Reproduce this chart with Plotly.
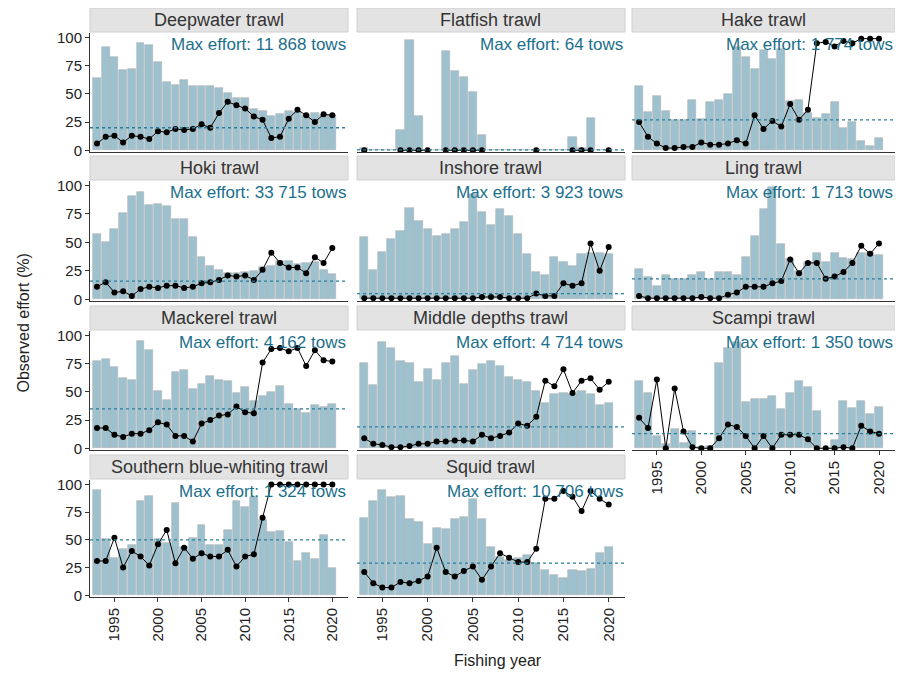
import plotly.graph_objects as go

years = list(range(1993, 2021))
fisheries = ["Deepwater trawl", "Flatfish trawl", "Hake trawl",
             "Hoki trawl", "Inshore trawl", "Ling trawl",
             "Mackerel trawl", "Middle depths trawl", "Scampi trawl",
             "Southern blue-whiting trawl", "Squid trawl"]
max_effort = ["11 868", "64", "1 774", "33 715", "3 923", "1 713",
              "4 162", "4 714", "1 350", "1 324", "10 706"]

N = None
effort = {
 "Deepwater trawl": [64,92,83,71,72,95,93,78,61,58,62,57,57,57,55,51,46,46,37,35,30,32,35,34,31,33,31,31],
 "Flatfish trawl": [2,0,0,0,18,98,30,0,0,88,70,65,52,14,0,0,0,0,0,0,0,0,0,12,2,29,0,0],
 "Hake trawl": [57,34,48,35,27,27,45,28,43,45,50,92,83,72,89,81,90,44,45,33,29,32,43,20,25,8,4,11],
 "Hoki trawl": [57,50,62,76,91,94,83,84,82,71,71,55,37,29,26,23,23,24,25,28,29,34,34,31,32,33,26,22],
 "Inshore trawl": [55,26,42,53,60,80,69,62,56,57,62,68,93,77,65,79,73,57,40,24,21,37,33,29,40,41,41,40],
 "Ling trawl": [27,20,12,21,18,18,21,24,18,24,24,21,37,56,79,99,49,35,25,33,41,33,41,36,35,41,41,39],
 "Mackerel trawl": [77,79,72,62,61,95,87,51,43,68,69,53,57,64,61,60,49,54,42,46,50,55,39,35,31,38,37,39],
 "Middle depths trawl": [76,56,94,89,77,76,59,70,61,76,82,57,69,75,77,73,63,61,59,51,40,48,49,48,51,48,38,40],
 "Scampi trawl": [60,49,11,4,17,5,15,1,2,76,89,94,41,44,44,46,35,49,60,54,33,0,7,42,36,42,30,37],
 "Southern blue-whiting trawl": [95,51,34,42,45,85,90,51,47,83,44,52,63,45,45,59,85,80,89,68,57,58,48,31,38,33,54,25],
 "Squid trawl": [70,85,95,89,90,69,66,46,61,60,69,71,87,69,44,35,32,34,36,29,23,18,16,23,22,24,38,44],
}
observed = {
 "Deepwater trawl": [6,12,13,7,13,12,10,17,16,19,18,19,23,20,33,43,40,37,30,27,11,12,28,36,31,25,32,31],
 "Flatfish trawl": [0,N,N,N,0,0,0,0,N,0,0,0,0,0,N,N,N,N,N,0,N,N,N,0,0,0,N,0],
 "Hake trawl": [25,12,6,2,2,3,3,7,5,5,6,9,6,31,19,26,21,41,27,36,95,96,92,97,95,99,99,99],
 "Hoki trawl": [11,15,6,7,3,9,11,10,12,12,10,11,14,15,17,21,20,21,17,26,41,32,28,28,23,37,32,45],
 "Inshore trawl": [1,1,1,1,1,1,1,1,1,1,1,1,1,2,2,2,1,1,1,5,3,3,14,12,14,49,25,46],
 "Ling trawl": [3,1,1,1,1,1,1,2,1,1,4,6,11,11,11,14,16,35,23,32,32,18,20,24,32,47,40,49],
 "Mackerel trawl": [18,18,12,10,13,13,16,23,21,11,11,6,22,25,29,30,37,32,31,76,88,89,86,89,73,87,78,77],
 "Middle depths trawl": [9,4,3,1,1,2,4,4,6,6,7,7,6,12,9,11,14,22,20,28,60,55,70,49,60,62,52,59],
 "Scampi trawl": [27,18,61,0,53,15,1,0,0,9,21,19,11,0,11,0,12,12,12,8,0,0,0,1,0,20,15,13],
 "Southern blue-whiting trawl": [31,31,52,25,40,35,27,46,59,29,43,33,38,35,35,41,26,35,37,70,100,100,100,100,100,100,100,100],
 "Squid trawl": [21,11,7,7,12,11,13,17,43,21,17,22,26,14,26,38,34,30,30,42,87,87,94,89,76,94,87,82],
}
mean_obs = {"Deepwater trawl": 20, "Flatfish trawl": 0.3, "Hake trawl": 27,
            "Hoki trawl": 16, "Inshore trawl": 5, "Ling trawl": 18,
            "Mackerel trawl": 35, "Middle depths trawl": 19, "Scampi trawl": 13,
            "Southern blue-whiting trawl": 50, "Squid trawl": 29}
y_ticks = [0, 25, 50, 75, 100]
x_ticks = [1995, 2000, 2005, 2010, 2015, 2020]

W, H = 903, 677
OFF = 8
cols_px = [(90, 348), (357, 625), (632, 895)]
rows_px = [(33, 152), (181, 301), (331, 450), (480, 597)]
strip_h = 24

def px(v):
    return (v - OFF) / W

def py(v):
    return 1 - (v - OFF) / H

fig = go.Figure()
layout = {}
for i, name in enumerate(fisheries):
    r, c = divmod(i, 3)
    k = i + 1
    xa = "x" if k == 1 else f"x{k}"
    ya = "y" if k == 1 else f"y{k}"
    x0, x1 = cols_px[c]
    y0, y1 = rows_px[r]
    bottom = (r == 3) or (r == 2 and c == 2)
    layout["xaxis" if k == 1 else f"xaxis{k}"] = dict(
        domain=[px(x0), px(x1)], anchor=ya, range=[1992.2, 2021.8], automargin=False,
        tickvals=x_ticks, showticklabels=bottom, tickangle=-90,
        ticks="outside" if bottom else "", ticklen=4, tickcolor="#333",
        showgrid=False, zeroline=False, showline=True, linecolor="#333", linewidth=1,
        tickfont=dict(size=15, color="#222"))
    layout["yaxis" if k == 1 else f"yaxis{k}"] = dict(
        domain=[py(y1), py(y0)], anchor=xa, range=[-1.5, 104], automargin=False,
        tickvals=y_ticks, showticklabels=(c == 0), ticks="outside" if c == 0 else "",
        ticklen=4, tickcolor="#333", showgrid=False, zeroline=False,
        showline=(c == 0), linecolor="#333", linewidth=1,
        tickfont=dict(size=15, color="#222"))
    fig.add_trace(go.Bar(x=years, y=effort[name], xaxis=xa, yaxis=ya, width=0.9,
                         marker=dict(color="#9dc1ce", line=dict(color="#b0b0b0", width=0.6)),
                         showlegend=False))
    fig.add_trace(go.Scatter(x=years, y=observed[name], xaxis=xa, yaxis=ya,
                             mode="lines+markers", line=dict(color="black", width=1),
                             marker=dict(color="black", size=6), connectgaps=False,
                             showlegend=False))
    fig.add_shape(type="line", xref=f"{xa} domain", yref=ya, x0=0, x1=1,
                  y0=mean_obs[name], y1=mean_obs[name],
                  line=dict(color="#2a7f96", width=1.3, dash="dot"))
    fig.add_shape(type="rect", xref="paper", yref="paper", x0=px(x0), x1=px(x1),
                  y0=py(y0 - 1), y1=py(y0 - 1 - strip_h),
                  fillcolor="#e3e3e3", line=dict(color="#d0d0d0", width=1), layer="below")
    fig.add_annotation(xref="paper", yref="paper", x=px((x0 + x1) / 2),
                       y=py(y0 - 1 - strip_h / 2), text=name, showarrow=False,
                       font=dict(size=18, color="#333"), xanchor="center", yanchor="middle")
    fig.add_annotation(xref=f"{xa} domain", yref=f"{ya} domain", x=1, y=1,
                       text=f"Max effort: {max_effort[i]} tows", showarrow=False,
                       xanchor="right", yanchor="top", font=dict(size=17, color="#1b6f8c"))

fig.add_annotation(xref="paper", yref="paper", x=px(12), y=py(323), text="Observed effort (%)",
                   textangle=-90, showarrow=False, font=dict(size=16, color="#222"))
fig.add_annotation(xref="paper", yref="paper", x=px(498), y=py(671), text="Fishing year",
                   showarrow=False, font=dict(size=16, color="#222"))

fig.update_layout(**layout, width=W, height=H, margin=dict(l=0, r=0, t=0, b=0, autoexpand=False),
                  paper_bgcolor="white", plot_bgcolor="white", bargap=0,
                  font=dict(family="Liberation Sans, Arial, sans-serif"))
fig.write_html("out.html")
